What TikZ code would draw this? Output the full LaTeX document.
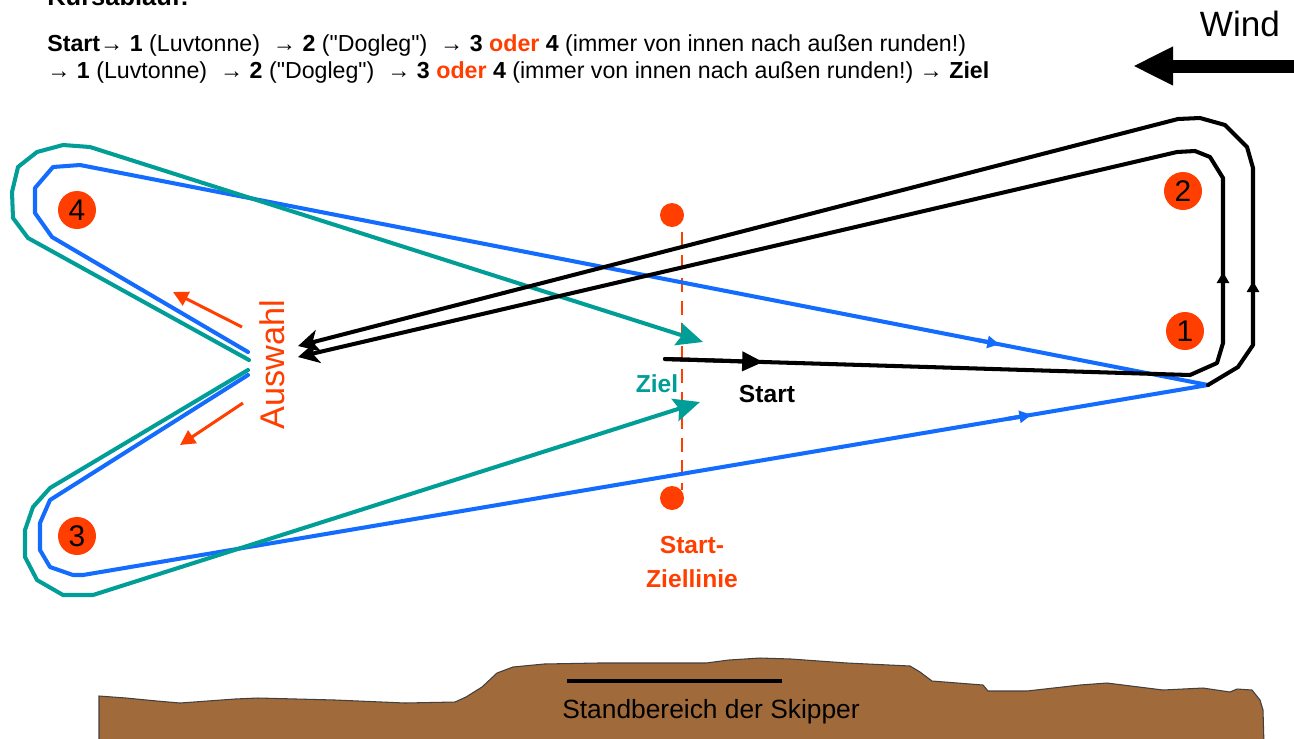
\documentclass[tikz,border=0pt]{standalone}
\usepackage{fontspec}
\setmainfont{Liberation Sans}[Ligatures=TeXOff]
\usepackage{tikz}
\usetikzlibrary{arrows.meta,calc}
\definecolor{tonnecolor}{RGB}{255,62,0}
\definecolor{zielcolor}{RGB}{0,158,150}
\definecolor{bahncolor}{RGB}{20,108,255}
\definecolor{landcolor}{RGB}{160,106,58}
\tikzset{
  bahn/.style={line width=2.3pt, line join=round, line cap=round},
  tonne/.style={circle, fill=tonnecolor, minimum size=0.76cm, inner sep=0pt, font=\fontsize{17}{17}\selectfont},
  linienpunkt/.style={circle, fill=tonnecolor, minimum size=0.48cm, inner sep=0pt},
  kopf/.style={anchor=base west, inner sep=0pt, font=\fontsize{13.2}{15}\selectfont},
  marke/.style={font=\bfseries\fontsize{14}{16}\selectfont},
  auswahltip/.style={-{Stealth[length=4.2mm,width=4.4mm,inset=1.2mm]}},
  zieltip/.style={-{Stealth[length=5.2mm,width=4.6mm,inset=0.8mm]}},
  midtip/.style={-{Triangle[length=2.4mm,width=2.4mm]}},
}
\newcommand{\tonne}[3]{%
  \node[tonne] (#1) at #2 {#3};
}
% Pfeil mitten auf einer Strecke: Farbe, Anfang, Ende, Anteil
\newcommand{\mitte}[4]{%
  \draw[bahn, #1, midtip] ($#2!#4-0.02!#3$) -- ($#2!#4!#3$);
}

\begin{document}
\begin{tikzpicture}[x=0.02cm, y=-0.02cm]
  \useasboundingbox (0,0) rectangle (1294,738);
  \clip (0,0) rectangle (1294,738);
  % Kopf
  \node[kopf, font=\bfseries\fontsize{14.5}{17}\selectfont] (titel) at (47,5) {Kursablauf:};
  \node[kopf] (zeile1) at (47,51) {\textbf{Start}→ \textbf{1} (Luvtonne)\ \ → \textbf{2} ("Dogleg")\ \ → \textbf{3} \textcolor{tonnecolor}{\textbf{oder}} \textbf{4} (immer von innen nach außen runden!)};
  \node[kopf] (zeile2) at (47,78) {→ \textbf{1} (Luvtonne)\ \ → \textbf{2} ("Dogleg")\ \ → \textbf{3} \textcolor{tonnecolor}{\textbf{oder}} \textbf{4} (immer von innen nach außen runden!)\ → \textbf{Ziel}};
  % Wind
  \node[anchor=base, inner sep=0pt, font=\fontsize{20}{20}\selectfont] (wind) at (1240,36) {Wind};
  \coordinate (windrechts) at (1300,66);
  \coordinate (windlinks) at (1133,66);
  \draw[line width=7.4pt, -{Triangle[length=8mm,width=7.2mm]}] (windrechts) -- (windlinks);
  % Ufer
  \fill[landcolor] (99,696) -- (126,698) -- (157,701) -- (180,703) -- (235,699) -- (258,698)
    -- (335,700) -- (405,703) -- (455,702) -- (466,697) -- (482,687) -- (497,673) -- (513,667)
    -- (544,664) -- (598,663) -- (706,663) -- (729,660) -- (760,658) -- (791,659) -- (847,663)
    -- (910,666) -- (920,672) -- (932,681) -- (983,685) -- (988,691) -- (1027,691) -- (1080,685)
    -- (1107,683) -- (1163,690) -- (1203,688) -- (1230,692) -- (1237,689) -- (1252,690)
    -- (1260,700) -- (1263,710) -- (1264,745) -- (99,745) -- cycle;
  \draw[black!75, line width=0.6pt] (99,745) -- (99,696) -- (126,698) -- (157,701) -- (180,703) -- (235,699) -- (258,698)
    -- (335,700) -- (405,703) -- (455,702) -- (466,697) -- (482,687) -- (497,673) -- (513,667)
    -- (544,664) -- (598,663) -- (706,663) -- (729,660) -- (760,658) -- (791,659) -- (847,663)
    -- (910,666) -- (920,672) -- (932,681) -- (983,685) -- (988,691) -- (1027,691) -- (1080,685)
    -- (1107,683) -- (1163,690) -- (1203,688) -- (1230,692) -- (1237,689) -- (1252,690)
    -- (1260,700) -- (1263,710) -- (1264,745);
  \coordinate (standl) at (567,681);
  \coordinate (standr) at (782,681);
  \draw[line width=2.4pt] (standl) -- (standr);
  \node[inner sep=0pt, font=\fontsize{15}{16}\selectfont] (stand) at (711,712) {Standbereich der Skipper};
  % Start-Ziellinie
  \node[linienpunkt] (lo) at (672,215) {};
  \node[linienpunkt] (lu) at (672,498) {};
  \coordinate (lo2) at (682,232);
  \coordinate (lu2) at (682,490);
  \draw[tonnecolor, line width=1.2pt, dash pattern=on 8pt off 5pt] (lo2) -- (lu2);
  \node[marke, tonnecolor, align=center, inner sep=0pt] (linie) at (692,562) {Start-\\[3pt]Ziellinie};
  % blaue Bahn ueber 4 bzw. 3
  \coordinate (kreuz) at (1208,385);
  \coordinate (b4) at (80,165);
  \coordinate (b3) at (83,575);
  \draw[bahn, bahncolor] (248,352) -- (52,237) -- (35,213) -- (35,188) -- (53,167) -- (b4) -- (kreuz);
  \draw[bahn, bahncolor] (248,375) -- (50,500) -- (40,523) -- (40,550) -- (50,567) -- (73,575) -- (b3) -- (kreuz);
  \mitte{bahncolor}{(b4)}{(kreuz)}{0.815}
  \mitte{bahncolor}{(b3)}{(kreuz)}{0.843}
  % Zielbahn
  \coordinate (z4) at (90,147);
  \coordinate (z3) at (93,595);
  \coordinate (zieloben) at (703,342);
  \coordinate (zielunten) at (700,402);
  \draw[bahn, zielcolor, zieltip] (249,360) -- (28,238) -- (13,218) -- (12,192) -- (18,167) -- (37,152) -- (63,145) -- (z4) -- (zieloben);
  \draw[bahn, zielcolor, zieltip] (248,370) -- (50,488) -- (33,507) -- (25,530) -- (25,557) -- (37,580) -- (63,595) -- (z3) -- (zielunten);
  \node[marke, zielcolor, inner sep=0pt] (ziel) at (657,384) {Ziel};
  % Start und Runde um 1 und 2
  \coordinate (startpkt) at (665,359);
  \coordinate (um1) at (1190,375);
  \coordinate (auswahloben) at (298,346);
  \coordinate (auswahlunten) at (298,357);
  \draw[bahn, auswahltip] (startpkt) -- (um1) -- (1217,363) -- (1223,343) -- (1223,178) -- (1210,157)
    -- (1195,151) -- (1177,152) -- (auswahlunten);
  \draw[bahn, auswahltip] (kreuz) -- (1238,367) -- (1253,345) -- (1253,168) -- (1247,147) -- (1225,125)
    -- (1200,118) -- (1178,119) -- (auswahloben);
  \draw[bahn, -{Triangle[length=4.2mm,width=3.8mm]}] (startpkt) -- ($(startpkt)!0.187!(um1)$);
  \draw[bahn, -{Triangle[length=2.2mm,width=2.4mm]}] (1223,300) -- (1223,272);
  \draw[bahn, -{Triangle[length=2.2mm,width=2.4mm]}] (1253,310) -- (1253,281);
  \node[marke, inner sep=0pt] (start) at (767,394) {Start};
  % Auswahl
  \node[rotate=90, tonnecolor, inner sep=0pt, font=\fontsize{19.5}{20}\selectfont] (auswahl) at (272,365) {Auswahl};
  \draw[tonnecolor, line width=1.7pt, -{Triangle[length=3mm,width=3mm]}] (242,327) -- (173,292);
  \draw[tonnecolor, line width=1.7pt, -{Triangle[length=3mm,width=3mm]}] (243,403) -- (180,445);
  % Tonnen
  \tonne{t1}{(1185,331)}{1}
  \tonne{t2}{(1183,191)}{2}
  \tonne{t3}{(77,536)}{3}
  \tonne{t4}{(77,210)}{4}
\end{tikzpicture}
\end{document}
